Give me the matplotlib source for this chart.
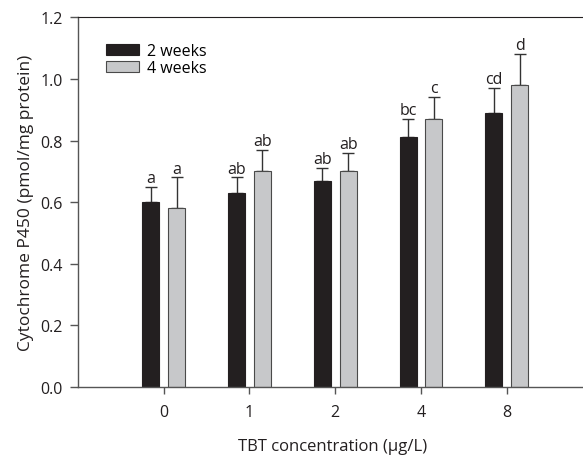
import matplotlib
matplotlib.use("Agg")
import matplotlib.pyplot as plt
import numpy as np

plt.rcParams["font.family"] = ["Open Sans", "DejaVu Sans"]

# data
concentrations = ["0", "1", "2", "4", "8"]
weeks2 = [0.60, 0.63, 0.67, 0.81, 0.89]
weeks2_err = [0.05, 0.05, 0.04, 0.06, 0.08]
weeks4 = [0.58, 0.70, 0.70, 0.87, 0.98]
weeks4_err = [0.10, 0.07, 0.06, 0.07, 0.10]
letters2 = ["a", "ab", "ab", "bc", "cd"]
letters4 = ["a", "ab", "ab", "c", "d"]

axis_grey = "#555555"
text_col = "#231f20"
fs = 11.5
x = np.arange(len(concentrations))
width = 0.2
offset = 0.15

fig = plt.figure(figsize=(5.83, 4.56), dpi=100)
ax = fig.add_axes([0.1338, 0.149, 0.8662, 0.811])

err_kw = dict(ecolor="#333333", elinewidth=1.0, capsize=4.5, capthick=1.0)
ax.bar(x - offset, weeks2, width, color=text_col, edgecolor=text_col,
       linewidth=0.8, label="2 weeks", zorder=2)
ax.bar(x + offset, weeks4, width, color="#c7c8ca", edgecolor="#4a4a4a",
       linewidth=0.8, label="4 weeks", zorder=2)
ax.errorbar(x - offset, weeks2, yerr=[np.zeros(len(x)), weeks2_err],
            fmt="none", zorder=1, **err_kw)
ax.errorbar(x + offset, weeks4, yerr=[np.zeros(len(x)), weeks4_err],
            fmt="none", zorder=1, **err_kw)

for xi, v, e, t in zip(x - offset, weeks2, weeks2_err, letters2):
    ax.text(xi, v + e + 0.003, t, ha="center", va="bottom", fontsize=fs,
            color=text_col)
for xi, v, e, t in zip(x + offset, weeks4, weeks4_err, letters4):
    ax.text(xi, v + e + 0.003, t, ha="center", va="bottom", fontsize=fs,
            color=text_col)

ax.set_xlim(-1, 4.89)
ax.set_ylim(0, 1.2)
ax.set_xticks(x)
ax.set_xticklabels(concentrations)
ax.set_yticks(np.arange(0, 1.21, 0.2))
ax.set_yticklabels([f"{v:.1f}" for v in np.arange(0, 1.21, 0.2)])
ax.tick_params(axis="both", direction="out", width=1, color=axis_grey,
               labelsize=fs, labelcolor=text_col)
ax.tick_params(axis="y", length=6, pad=5)
ax.tick_params(axis="x", length=5, pad=7)

for side in ["left", "bottom"]:
    ax.spines[side].set_color(axis_grey)
    ax.spines[side].set_linewidth(1.0)
ax.spines["top"].set_color(text_col)
ax.spines["right"].set_visible(False)

ax.set_ylabel("Cytochrome P450 (pmol/mg protein)", fontsize=12.5, color=text_col)
ax.yaxis.set_label_coords(-0.087, 0.5)
ax.set_xlabel("TBT concentration (\u00b5g/L)", fontsize=12, color=text_col)
ax.xaxis.set_label_coords(0.505, -0.138)

ax.legend(loc="upper left", bbox_to_anchor=(0.055, 0.93), frameon=False,
          fontsize=fs, handlelength=2.05, handleheight=0.7,
          handletextpad=0.5, labelspacing=0.05, borderpad=0,
          borderaxespad=0)

fig.savefig("out.png", dpi=100)
